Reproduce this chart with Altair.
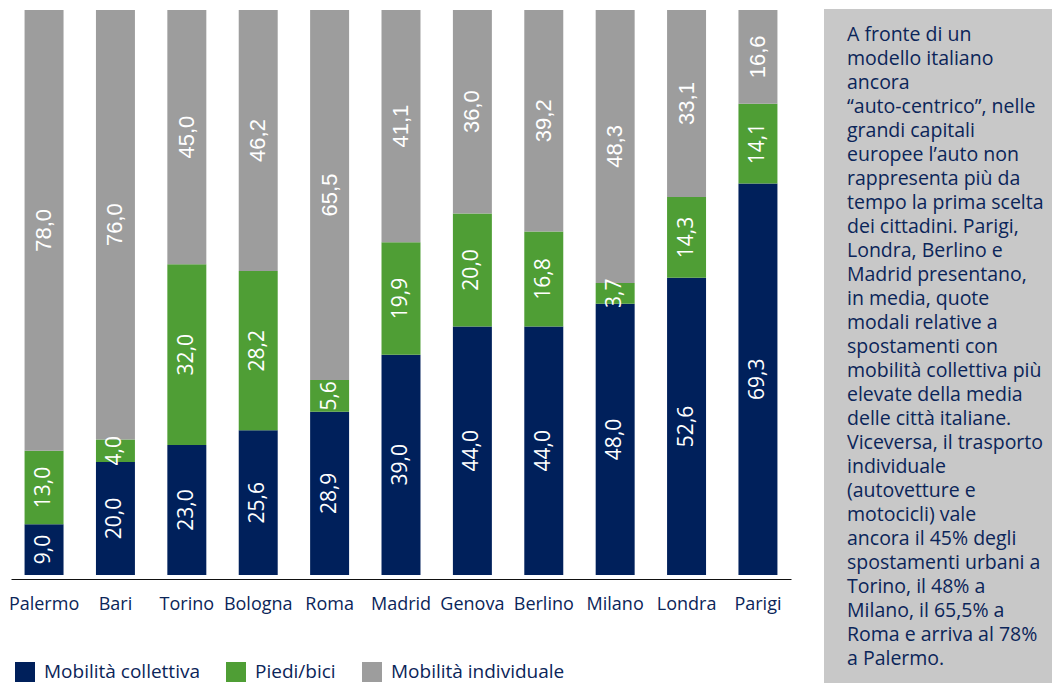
import altair as alt
import pandas as pd

cities = ["Palermo", "Bari", "Torino", "Bologna", "Roma", "Madrid",
          "Genova", "Berlino", "Milano", "Londra", "Parigi"]
collettiva = [9.0, 20.0, 23.0, 25.6, 28.9, 39.0, 44.0, 44.0, 48.0, 52.6, 69.3]
piedi_bici = [13.0, 4.0, 32.0, 28.2, 5.6, 19.9, 20.0, 16.8, 3.7, 14.3, 14.1]
individuale = [78.0, 76.0, 45.0, 46.2, 65.5, 41.1, 36.0, 39.2, 48.3, 33.1, 16.6]
modes = ["Mobilità collettiva", "Piedi/bici", "Mobilità individuale"]
colors = ["#00205b", "#4f9e35", "#9d9d9d"]
note_lines = [
    "A fronte di un",
    "modello italiano",
    "ancora",
    "\u201cauto-centrico\u201d, nelle",
    "grandi capitali",
    "europee l\u2019auto non",
    "rappresenta più da",
    "tempo la prima scelta",
    "dei cittadini. Parigi,",
    "Londra, Berlino e",
    "Madrid presentano,",
    "in media, quote",
    "modali relative a",
    "spostamenti con",
    "mobilità collettiva più",
    "elevate della media",
    "delle città italiane.",
    "Viceversa, il trasporto",
    "individuale",
    "(autovetture e",
    "motocicli) vale",
    "ancora il 45% degli",
    "spostamenti urbani a",
    "Torino, il 48% a",
    "Milano, il 65,5% a",
    "Roma e arriva al 78%",
    "a Palermo.",
]

NAVY = "#0b2559"
FONT = "Open Sans"

rows = []
for i, c in enumerate(cities):
    for k, (m, vals) in enumerate(zip(modes, [collettiva, piedi_bici, individuale])):
        v = vals[i]
        rows.append({"city": c, "mode": m, "order": k, "value": v,
                     "label": f"{v:.1f}".replace(".", ",")})
df = pd.DataFrame(rows)

base = alt.Chart(df).transform_stack(
    stack="value", groupby=["city"], sort=[alt.SortField("order")], as_=["y0", "y1"]
).transform_calculate(mid="(datum.y0 + datum.y1) / 2")

xenc = alt.X(
    "city:N", sort=cities,
    scale=alt.Scale(paddingInner=0.454, paddingOuter=0.19),
    axis=alt.Axis(title=None, labelAngle=0, ticks=False, tickSize=0,
                  domainColor="#111111", domainWidth=1, offset=4,
                  labelPadding=16, labelFont=FONT, labelFontSize=18,
                  labelColor=NAVY),
)
yscale = alt.Scale(domain=[0, 100], nice=False)

bars = base.mark_bar().encode(
    x=xenc,
    y=alt.Y("y0:Q", scale=yscale, axis=None),
    y2="y1:Q",
    color=alt.Color(
        "mode:N", scale=alt.Scale(domain=modes, range=colors),
        legend=alt.Legend(orient="none", legendX=4, legendY=652,
                          direction="horizontal", title=None,
                          symbolType="square", symbolSize=400,
                          symbolStrokeWidth=0, symbolOpacity=1,
                          labelFont=FONT, labelFontSize=19, labelColor=NAVY,
                          labelOffset=9, columnPadding=26, labelLimit=0),
    ),
)

labels_main = base.transform_filter(
    alt.datum.order < 2
).mark_text(angle=270, color="white", font=FONT, fontSize=21).encode(
    x=alt.X("city:N", sort=cities),
    y=alt.Y("mid:Q", scale=yscale),
    text="label:N",
)

labels_gray = base.transform_filter(
    alt.datum.order == 2
).mark_text(angle=270, color="white", font="Liberation Sans", fontSize=22).encode(
    x=alt.X("city:N", sort=cities),
    y=alt.Y("mid:Q", scale=yscale),
    text="label:N",
)

box = alt.Chart(pd.DataFrame({"a": [0]})).mark_rect(color="#c8c8c8").encode(
    x=alt.value(813), x2=alt.value(1041), y=alt.value(-1), y2=alt.value(673)
)

note = alt.Chart(pd.DataFrame({"t": ["\n".join(note_lines)]})).mark_text(
    align="left", baseline="alphabetic", lineBreak="\n", lineHeight=24,
    fontSize=19.5, font=FONT, color=NAVY,
).encode(x=alt.value(836), y=alt.value(31), text="t:N")

chart = alt.layer(box, bars, labels_main, labels_gray, note).properties(
    width=780, height=565,
    autosize=alt.AutoSizeParams(type="none"),
    padding={"left": 3, "top": 2, "right": 261, "bottom": 108},
    background="white",
).configure_view(strokeWidth=0)

chart.save("out.html", embed_options={"renderer": "svg", "actions": False})
